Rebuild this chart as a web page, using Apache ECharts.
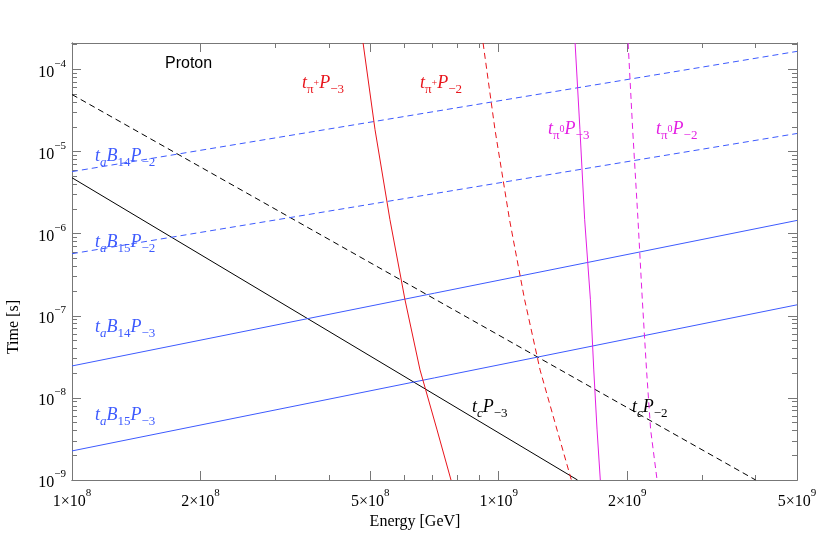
<!DOCTYPE html>
<html><head><meta charset="utf-8">
<script src="https://cdn.jsdelivr.net/npm/echarts@6/dist/echarts.min.js"></script>
<style>html,body{margin:0;background:#fff}#main{width:830px;height:541px}</style>
</head><body><div id="main"></div>
<script>
// 坐标刻度
var xMajor = [1e8, 2e8, 5e8, 1e9, 2e9, 5e9];
var xMinor = [3e8, 4e8, 6e8, 7e8, 8e8, 9e8, 3e9, 4e9];
var yMajor = [1e-9, 1e-8, 1e-7, 1e-6, 1e-5, 1e-4];
var yMinor = [];
[1e-9, 1e-8, 1e-7, 1e-6, 1e-5, 1e-4].forEach(function (d) {
    for (var k = 2; k <= 9; k++) { if (k * d <= 2.1e-4) yMinor.push(k * d); }
});

// 数据 (能量 GeV, 时间 s)
var tcP3 = [[1e8, 4.8e-6], [1.53e9, 1e-9]];
var tcP2 = [[1e8, 4.95e-5], [4.0e9, 1e-9]];
var B14P2 = [[1e8, 5.7e-6], [5e9, 1.66e-4]];
var B15P2 = [[1e8, 5.7e-7], [5e9, 1.66e-5]];
var B14P3 = [[1e8, 2.45e-8], [5e9, 1.45e-6]];
var B15P3 = [[1e8, 2.26e-9], [5e9, 1.36e-7]];
var curveT = [2.1e-4, 1.85e-5, 1.48e-6, 1.57e-7, 2.19e-8, 4.07e-9, 1e-9];
var piPlusP3E = [4.81e8, 5.13e8, 5.56e8, 6.03e8, 6.54e8, 7.17e8, 7.73e8];
var piPlusP2E = [9.19e8, 9.80e8, 1.06e9, 1.15e9, 1.25e9, 1.37e9, 1.48e9];
var pi0P3E = [1.51e9, 1.55e9, 1.59e9, 1.64e9, 1.67e9, 1.70e9, 1.73e9];
var pi0P2E = [2.01e9, 2.06e9, 2.12e9, 2.17e9, 2.22e9, 2.27e9, 2.35e9];

function zipT(es) { return es.map(function (e, i) { return [e, curveT[i]]; }); }

var myChart = echarts.init(document.getElementById('main'));
var FONT = 'Liberation Serif';
var axisColor = '#777';

function xAx(pos, vals, len, lab) {
    return {
        type: 'log', min: 1e8, max: 5e9, position: pos,
        axisLine: { show: true, lineStyle: { color: axisColor } },
        axisTick: { show: true, inside: true, length: len, customValues: vals, lineStyle: { color: axisColor } },
        axisLabel: lab ? {
            show: true, customValues: vals, margin: 8, color: '#000', fontFamily: FONT,
            formatter: function (v) {
                var e = Math.floor(Math.log10(v) + 1e-9);
                var m = Math.round(v / Math.pow(10, e));
                return '{n|' + m + '\u00d710}{e|' + e + '}';
            },
            rich: { n: { fontSize: 16, fontFamily: FONT, color: '#000', verticalAlign: 'bottom', lineHeight: 22 },
                    e: { fontSize: 11, fontFamily: FONT, color: '#000', verticalAlign: 'top', lineHeight: 22 } }
        } : { show: false },
        splitLine: { show: false }
    };
}
function yAx(pos, vals, len, lab) {
    return {
        type: 'log', min: 1e-9, max: 2.1e-4, position: pos,
        axisLine: { show: true, lineStyle: { color: axisColor } },
        axisTick: { show: true, inside: true, length: len, customValues: vals, lineStyle: { color: axisColor } },
        axisLabel: lab ? {
            show: true, customValues: vals, margin: 6, fontFamily: FONT,
            formatter: function (v) {
                return '{n|10}{e|' + Math.round(Math.log10(v)).toString().replace('-', '\u2212') + '}';
            },
            rich: { n: { fontSize: 16, fontFamily: FONT, color: '#000', verticalAlign: 'bottom', lineHeight: 22 },
                    e: { fontSize: 11, fontFamily: FONT, color: '#000', verticalAlign: 'top', lineHeight: 22 } }
        } : { show: false },
        splitLine: { show: false }
    };
}

function ln(data, color, dashed) {
    return { type: 'line', data: data, symbol: 'none', xAxisIndex: 0, yAxisIndex: 0, silent: true,
        lineStyle: { color: color, width: 1, type: dashed ? [6, 4] : 'solid' } };
}

var BLUE = '#3d5afe', RED = '#e8141b', MAG = '#e31ee3';

// 标签 rich 文本
var richBase = {
    i: { fontFamily: FONT, fontStyle: 'italic', fontSize: 18, verticalAlign: 'middle', lineHeight: 26 },
    s: { fontFamily: FONT, fontSize: 13, verticalAlign: 'bottom', lineHeight: 26 },
    si: { fontFamily: FONT, fontStyle: 'italic', fontSize: 13, verticalAlign: 'bottom', lineHeight: 26 },
    u: { fontFamily: FONT, fontSize: 10, verticalAlign: 'middle', lineHeight: 26 }
};
function lab(x, y, text, color) {
    var rich = {};
    Object.keys(richBase).forEach(function (k) { rich[k] = Object.assign({ fill: color }, richBase[k]); });
    return { type: 'text', left: x, top: y, style: { text: text, rich: rich, fill: color } };
}
var tB = function (n, p) { return '{i|t}{si|a}{i|B}{s|' + n + '}{i|P}{s|\u2212' + p + '}'; };

var option = {
    animation: false,
    grid: { left: 72, right: 33, top: 43, bottom: 61 },
    xAxis: [xAx('bottom', xMajor, 9, true), xAx('bottom', xMinor, 5, false),
            xAx('top', xMajor, 9, false), xAx('top', xMinor, 5, false)],
    yAxis: [yAx('left', yMajor, 9, true), yAx('left', yMinor, 5, false),
            yAx('right', yMajor, 9, false), yAx('right', yMinor, 5, false)],
    series: [
        ln(tcP3, '#000', false), ln(tcP2, '#000', true),
        ln(B14P2, BLUE, true), ln(B15P2, BLUE, true),
        ln(B14P3, BLUE, false), ln(B15P3, BLUE, false),
        ln(zipT(piPlusP3E), RED, false), ln(zipT(piPlusP2E), RED, true),
        ln(zipT(pi0P3E), MAG, false), ln(zipT(pi0P2E), MAG, true)
    ],
    graphic: [
        { type: 'text', left: 165, top: 56, style: { text: 'Proton', fontFamily: 'Liberation Sans', fontSize: 16, fill: '#000' } },
        lab(302, 74, '{i|t}{s|\u03c0}{u|+}{i|P}{s|\u22123}', RED),
        lab(420, 74, '{i|t}{s|\u03c0}{u|+}{i|P}{s|\u22122}', RED),
        lab(548, 120, '{i|t}{s|\u03c0}{u|0}{i|P}{s|\u22123}', MAG),
        lab(656, 120, '{i|t}{s|\u03c0}{u|0}{i|P}{s|\u22122}', MAG),
        lab(95, 147, tB(14, 2), BLUE),
        lab(95, 233, tB(15, 2), BLUE),
        lab(95, 318, tB(14, 3), BLUE),
        lab(95, 406, tB(15, 3), BLUE),
        lab(472, 398, '{i|t}{si|c}{i|P}{s|\u22123}', '#000'),
        lab(632, 398, '{i|t}{si|c}{i|P}{s|\u22122}', '#000'),
        { type: 'text', left: 'center', top: 514, style: { text: 'Energy [GeV]', fontFamily: FONT, fontSize: 16, fill: '#000' } },
        { type: 'text', left: 6, top: 300, rotation: Math.PI / 2, style: { text: 'Time [s]', fontFamily: FONT, fontSize: 16, fill: '#000' } }
    ]
};
myChart.setOption(option);
</script>
</body></html>
